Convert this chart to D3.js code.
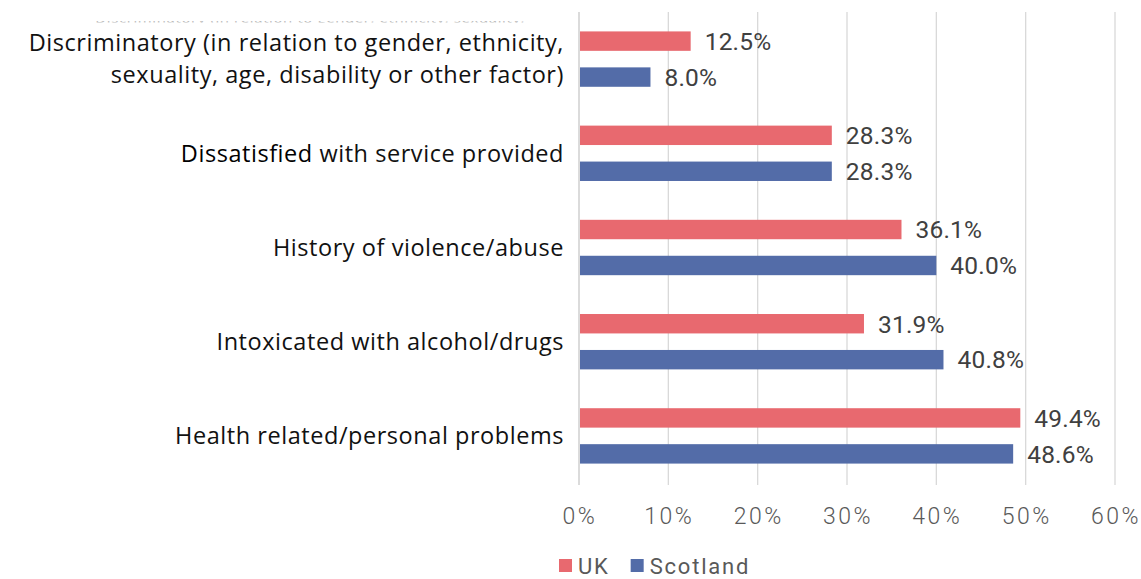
<!DOCTYPE html>
<html>
<head>
<meta charset="utf-8">
<script src="https://cdn.jsdelivr.net/npm/d3@7/dist/d3.min.js"></script>
<style>
  html, body { margin: 0; padding: 0; background: #fff; }
  svg { display: block; }
</style>
</head>
<body>
<svg id="chart" width="1141" height="579"></svg>
<script>
// Reasons, listed top to bottom
const categories = [
  "Discriminatory (in relation to gender, ethnicity, sexuality, age, disability or other factor)",
  "Dissatisfied with service provided",
  "History of violence/abuse",
  "Intoxicated with alcohol/drugs",
  "Health related/personal problems"
];
// Wrapped label lines for each reason
const labelLines = [
  ["Discriminatory (in relation to gender, ethnicity,", "sexuality, age, disability or other factor)"],
  ["Dissatisfied with service provided"],
  ["History of violence/abuse"],
  ["Intoxicated with alcohol/drugs"],
  ["Health related/personal problems"]
];
const seriesNames = ["UK", "Scotland"];
const ukValues = [12.5, 28.3, 36.1, 31.9, 49.4];
const scotlandValues = [8.0, 28.3, 40.0, 40.8, 48.6];
const tickValues = [0, 10, 20, 30, 40, 50, 60];

const colors = { UK: "#E8696F", Scotland: "#536CA8" };

const svg = d3.select("#chart");
const margin = { left: 579, right: 26, top: 12, bottom: 96 };
const W = 1141, H = 579;

const x = d3.scaleLinear().domain([0, 60]).range([margin.left, W - margin.right]);
const y = d3.scaleBand().domain(categories).range([margin.top, H - margin.bottom]).padding(0);
const ySub = d3.scaleBand().domain(seriesNames).range([0, y.bandwidth()])
  .paddingInner(0.46).paddingOuter(0.54);

const rows = categories.map((c, i) => ({
  cat: c, lines: labelLines[i],
  values: [{ s: "UK", v: ukValues[i] }, { s: "Scotland", v: scotlandValues[i] }]
}));

// Vertical gridlines
svg.append("g")
  .selectAll("line")
  .data(tickValues)
  .join("line")
  .attr("x1", d => x(d)).attr("x2", d => x(d))
  .attr("y1", margin.top).attr("y2", H - margin.bottom + 2)
  .attr("stroke", d => d === 0 ? "#c8c8c8" : "#d9d9d9")
  .attr("stroke-width", 1.3);

// Bars
const groups = svg.append("g").selectAll("g")
  .data(rows).join("g")
  .attr("transform", d => `translate(0,${y(d.cat)})`);

groups.selectAll("rect")
  .data(d => d.values)
  .join("rect")
  .attr("x", x(0) + 1)
  .attr("y", d => ySub(d.s))
  .attr("width", d => x(d.v) - x(0) - 1)
  .attr("height", ySub.bandwidth())
  .attr("fill", d => colors[d.s]);

// Value labels
groups.selectAll("text")
  .data(d => d.values)
  .join("text")
  .attr("x", d => x(d.v) + 14)
  .attr("y", d => ySub(d.s) + ySub.bandwidth() / 2)
  .attr("dy", "0.36em")
  .attr("font-family", "Roboto, 'Liberation Sans', sans-serif")
  .attr("font-size", 24.5)
  .attr("letter-spacing", 0.2)
  .attr("fill", "#404040")
  .text(d => d.v.toFixed(1) + "%");

// Category labels
const labelFont = "'Open Sans', 'Noto Sans', sans-serif";
const labels = svg.append("g").selectAll("text")
  .data(rows).join("text")
  .attr("text-anchor", "end")
  .attr("font-family", labelFont)
  .attr("font-size", 23.5)
  .attr("letter-spacing", 0.55)
  .attr("fill", "#111");

labels.each(function (d) {
  const t = d3.select(this);
  const n = d.lines.length;
  const lh = 32;
  const cy = y(d.cat) + y.bandwidth() / 2;
  d.lines.forEach((line, j) => {
    const ts = t.append("tspan")
      .attr("x", 564)
      .attr("y", cy + (j - (n - 1) / 2) * lh)
      .attr("dy", "0.35em");
    if (line.startsWith("Dissatisfied")) {
      ts.append("tspan").attr("font-weight", 500).attr("fill", "#000").text("Dissatisfied");
      ts.append("tspan").text(line.slice("Dissatisfied".length));
    } else {
      ts.text(line);
    }
  });
});

// Partly hidden line of text above the first label
svg.append("clipPath").attr("id", "topclip")
  .append("rect").attr("x", 0).attr("y", 21).attr("width", 580).attr("height", 1.6);
svg.append("text")
  .attr("clip-path", "url(#topclip)")
  .attr("x", 525).attr("y", 22.5)
  .attr("text-anchor", "end")
  .attr("font-family", labelFont)
  .attr("font-size", 15)
  .attr("letter-spacing", 0.6)
  .attr("fill", "#bbb")
  .text("Discriminatory (in relation to gender, ethnicity, sexuality,");

// X axis tick labels
svg.append("g").selectAll("text")
  .data(tickValues).join("text")
  .attr("x", d => x(d) + 1)
  .attr("y", 516)
  .attr("dy", "0.35em")
  .attr("text-anchor", "middle")
  .attr("font-family", "Roboto, 'Liberation Sans', sans-serif")
  .attr("font-weight", 300)
  .attr("font-size", 23)
  .attr("letter-spacing", 2.5)
  .attr("fill", "#595959")
  .text(d => d + "%");

// Legend
const legend = svg.append("g").attr("transform", "translate(559,566)");
let lx = 0;
seriesNames.forEach(s => {
  const g = legend.append("g").attr("transform", `translate(${lx},0)`);
  g.append("rect").attr("x", 0).attr("y", -7).attr("width", 13).attr("height", 13).attr("fill", colors[s]);
  const t = g.append("text")
    .attr("x", 19).attr("y", 0).attr("dy", "0.36em")
    .attr("font-family", "Roboto, 'Liberation Sans', sans-serif")
    .attr("font-size", 22)
    .attr("letter-spacing", 1.8)
    .attr("fill", "#595959")
    .text(s);
  lx += 19 + t.node().getComputedTextLength() + 21;
});
</script>
</body>
</html>
